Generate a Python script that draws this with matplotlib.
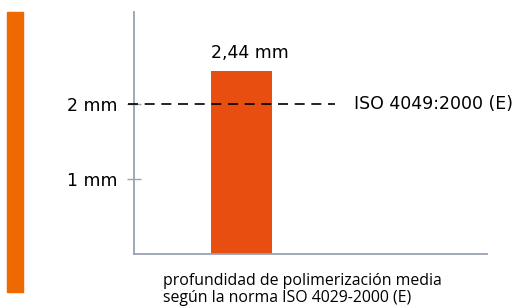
import matplotlib.pyplot as plt
from matplotlib.patches import Rectangle

plt.rcParams["font.family"] = ["DejaVu Sans"]

categories = ["profundidad"]
values = [2.44]
value_labels = ["2,44 mm"]
ref_value = 2.0
ref_label = "ISO 4049:2000 (E)"
yticks = [1, 2]
ytick_labels = ["1 mm", "2 mm"]
xlabel = "profundidad de polimerización media\nsegún la norma ISO 4029-2000 (E)"

W, H = 524, 308
fig = plt.figure(figsize=(W / 100, H / 100), dpi=100)

# orange stripe on the left
fig.patches.append(Rectangle((7 / W, 1 - 292 / H), 16 / W, 280 / H,
                             transform=fig.transFigure, color="#ee6a00", zorder=0))

ax = fig.add_axes([134 / W, 1 - 254 / H, (487 - 134) / W, (254 - 12) / H])
spine_col = "#98a2b3"
fs = 12.5
bar_w = 0.6

ax.bar(range(len(values)), values, width=bar_w, color="#e84e0f", zorder=2)
for i, (v, lab) in enumerate(zip(values, value_labels)):
    ax.text(i - bar_w / 2, v + 0.12, lab, ha="left", va="bottom", fontsize=fs)

ax.set_xlim(-1.057, 2.414)
ax.set_ylim(0, (254 - 12) / 75)

line = ax.axhline(ref_value, xmin=-0.017, xmax=0.57, color="black",
                  lw=1.2, clip_on=False, zorder=3)
line.set_dashes((6, 4))
ax.text(0.622, ref_value, ref_label, transform=ax.get_yaxis_transform(),
        ha="left", va="center", fontsize=fs)

ax.set_yticks(yticks)
ax.set_yticklabels(ytick_labels, fontsize=fs)
ax.tick_params(axis="y", direction="inout", length=10, width=1.0,
               color=spine_col, pad=7)
ax.set_xticks([])

for s in ["top", "right"]:
    ax.spines[s].set_visible(False)
for s in ["left", "bottom"]:
    ax.spines[s].set_color(spine_col)
    ax.spines[s].set_linewidth(1.3)

fig.text(163 / W, 1 - 273 / H, xlabel, ha="left", va="top", fontsize=11.4,
         family="Open Sans", linespacing=1.1)

fig.savefig("out.png", dpi=100)
